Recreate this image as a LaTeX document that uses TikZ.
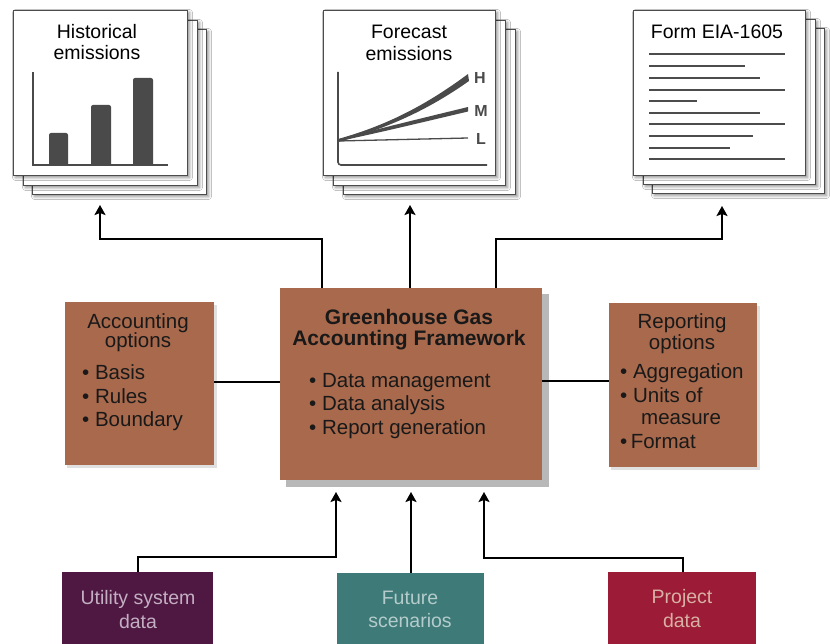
\documentclass[tikz,border=0pt]{standalone}
\usepackage{fontspec}
\setmainfont{Liberation Sans}
\usetikzlibrary{arrows.meta,shadows.blur}
\definecolor{brownbox}{HTML}{A8694C}
\definecolor{utilcol}{HTML}{4E1842}
\definecolor{futcol}{HTML}{3E7A78}
\definecolor{projcol}{HTML}{9C1B36}
\definecolor{utiltxt}{HTML}{C4AEC2}
\definecolor{futtxt}{HTML}{B4CCCB}
\definecolor{projtxt}{HTML}{D8B0A4}
\definecolor{chartcol}{HTML}{4A4A4A}
\begin{document}
\begin{tikzpicture}[x=1pt,y=-1pt,
  page/.style={draw=black!70, fill=white, line width=0.9pt, minimum height=165, inner sep=0,
    blur shadow={shadow xshift=2.5pt, shadow yshift=-2.5pt, shadow blur radius=3pt, shadow opacity=45}},
  txt/.style={anchor=base, inner sep=0, font=\fontsize{19.5}{22}\selectfont},
  boxtxt/.style={anchor=base, inner sep=0, font=\fontsize{20.5}{23}\selectfont, text=black!90},
  btxt/.style={anchor=base, inner sep=0, font=\fontsize{21}{24}\selectfont\bfseries, text=black!90},
  lbl/.style={anchor=base, inner sep=0, font=\fontsize{16}{18}\selectfont\bfseries, text=chartcol},
  brown/.style={fill=brownbox, inner sep=0},
  bottombox/.style={inner sep=0, minimum width=148, minimum height=80},
  arr/.style={line width=2.8pt, -{Stealth[length=10pt,width=11pt,inset=2pt]}},
  thin/.style={line width=1.4pt},
  bar/.style={fill=chartcol, rounded corners=2pt},
  formline/.style={line width=1.8pt, draw=black!70}
]
\clip (0,0) rectangle (830,644);
\fill[white] (0,0) rectangle (830,644);

% ---------- Historical emissions stack ----------
\node[page, minimum width=174] (h3) at (119,111.5) {};
\node[page, minimum width=174] (h2) at (110,102.5) {};
\node[page, minimum width=174] (h1) at (100,92.5) {};
\node[txt] (ht1) at (97,39) {Historical};
\node[txt] (ht2) at (97,60) {emissions};
\draw[line width=1.6pt, chartcol] (33,72) -- (33,165) -- (168,165);
\fill[bar] (49,166) -- (49,133) -- (68,133) -- (68,166) -- cycle;
\fill[bar] (91,166) -- (91,105) -- (111,105) -- (111,166) -- cycle;
\fill[bar] (133,166) -- (133,78) -- (153,78) -- (153,166) -- cycle;

% ---------- Forecast emissions stack ----------
\node[page, minimum width=172] (f3) at (429,111.5) {};
\node[page, minimum width=172] (f2) at (419,102.5) {};
\node[page, minimum width=172] (f1) at (409,92.5) {};
\node[txt] (ft1) at (409,39) {Forecast};
\node[txt] (ft2) at (409,61) {emissions};
\draw[line width=1.6pt, chartcol, rounded corners=3pt] (338,72) -- (338,165) -- (487,165);
\fill[chartcol] (338,139) .. controls (385,126) and (425,106) .. (468,74)
  -- (469,81) .. controls (428,110) and (388,128) .. (338,142) -- cycle;
\fill[chartcol] (338,139.5) .. controls (390,126) .. (468,107)
  -- (468,111.5) .. controls (392,129.5) .. (338,141.5) -- cycle;
\draw[line width=1.3pt, chartcol] (338,141) -- (468,138);
\node[lbl] (lh) at (480,84) {H};
\node[lbl] (lm) at (481,117) {M};
\node[lbl] (ll) at (481,145) {L};

% ---------- Form EIA-1605 stack ----------
\node[page, minimum width=172] (e3) at (738,110.5) {};
\node[page, minimum width=172] (e2) at (729,101.5) {};
\node[page, minimum width=172] (e1) at (719,92.5) {};
\node[txt] (et) at (717,39) {Form EIA-1605};
\foreach \yy/\xe in {54/785,66/745,78/760,90/785,101/697,113/760,124/785,136/753,148/730,159/785}
  \draw[formline] (649,\yy) -- (\xe,\yy);

% ---------- Central framework ----------
\fill[black!28] (286,294) rectangle (549,487);
\node[brown, minimum width=262, minimum height=192] (ghg) at (411,384) {};
\node[btxt] (g1) at (409,325) {Greenhouse Gas};
\node[btxt] (g2) at (409,345) {Accounting Framework};
\node[boxtxt, anchor=base west] (g3) at (309,387) {\textbullet\ Data management};
\node[boxtxt, anchor=base west] (g4) at (309,410) {\textbullet\ Data analysis};
\node[boxtxt, anchor=base west] (g5) at (309,434) {\textbullet\ Report generation};

% ---------- Accounting options ----------
\fill[black!12] (67,305) rectangle (217,468);
\node[brown, minimum width=149, minimum height=163] (acc) at (139.5,383.5) {};
\node[boxtxt] (a1) at (138,328) {Accounting};
\node[boxtxt] (a2) at (138,348) {options};
\node[boxtxt, anchor=base west] (a3) at (82,379) {\textbullet\ Basis};
\node[boxtxt, anchor=base west] (a4) at (82,403) {\textbullet\ Rules};
\node[boxtxt, anchor=base west] (a5) at (82,426) {\textbullet\ Boundary};

% ---------- Reporting options ----------
\fill[black!12] (611,306) rectangle (760,470);
\node[brown, minimum width=148, minimum height=164] (rep) at (683,385) {};
\node[boxtxt] (r1) at (682,328) {Reporting};
\node[boxtxt] (r2) at (682,349) {options};
\node[boxtxt, anchor=base west] (r3) at (620,378) {\textbullet\ Aggregation};
\node[boxtxt, anchor=base west] (r4) at (620,402) {\textbullet\ Units of};
\node[boxtxt, anchor=base west] (r5) at (641,424) {measure};
\node[boxtxt, anchor=base west] (r6) at (620,448) {\textbullet\,Format};

\draw[thin] (acc.east |- 0,382) -- (ghg.west |- 0,382);
\draw[thin] (ghg.east |- 0,381) -- (rep.west |- 0,381);

% ---------- Bottom inputs ----------
\node[bottombox, fill=utilcol, minimum width=151] (util) at (137.5,612) {};
\node[bottombox, fill=futcol, minimum width=147] (fut) at (410.5,613) {};
\node[bottombox, fill=projcol, minimum width=148] (proj) at (682,612) {};
\node[txt, text=utiltxt] (u1) at (138,604) {Utility system};
\node[txt, text=utiltxt] (u2) at (138,628) {data};
\node[txt, text=futtxt] (s1) at (410,604) {Future};
\node[txt, text=futtxt] (s2) at (410,627) {scenarios};
\node[txt, text=projtxt] (p1) at (682,603) {Project};
\node[txt, text=projtxt] (p2) at (682,627) {data};

% ---------- Connectors: top ----------
\coordinate (jl) at (322,239);
\coordinate (tl) at (100,205);
\coordinate (tm) at (410,205);
\coordinate (jr) at (496,239);
\coordinate (tr) at (722,206);
\draw[arr] (ghg.north -| jl) -- (jl) -| (tl);
\draw[arr, line width=2.3pt] (ghg.north -| tm) -- (tm);
\draw[arr] (ghg.north -| jr) -- (jr) -| (tr);

% ---------- Connectors: bottom ----------
\coordinate (ju) at (336,557);
\coordinate (bu) at (336,492);
\coordinate (bm) at (411,492);
\coordinate (jp) at (484,558);
\coordinate (bp) at (484,492);
\draw[arr] (util.north -| 138,0) |- (ju) -- (bu);
\draw[arr] (fut.north -| bm) -- (bm);
\draw[arr] (proj.north -| 683,0) |- (jp) -- (bp);
\end{tikzpicture}
\end{document}
